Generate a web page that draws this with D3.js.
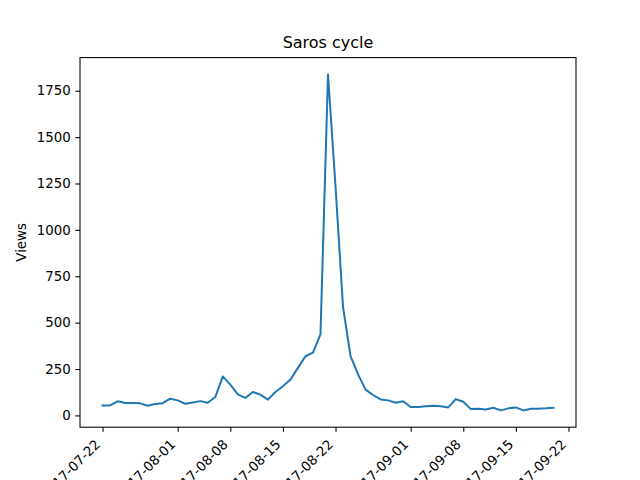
<!DOCTYPE html>
<html>
<head>
<meta charset="utf-8">
<script src="https://cdn.jsdelivr.net/npm/d3@7"></script>
<style>
  html, body { margin: 0; padding: 0; background: #fff; }
  svg { display: block; }
  text { font-family: "DejaVu Sans", sans-serif; fill: #000; }
</style>
</head>
<body>
<svg id="chart" width="640" height="480"></svg>
<script>
// ---- data ----
const dates = [
  "2017-07-22","2017-07-23","2017-07-24","2017-07-25","2017-07-26","2017-07-27","2017-07-28","2017-07-29","2017-07-30","2017-07-31",
  "2017-08-01","2017-08-02","2017-08-03","2017-08-04","2017-08-05","2017-08-06","2017-08-07","2017-08-08","2017-08-09","2017-08-10",
  "2017-08-11","2017-08-12","2017-08-13","2017-08-14","2017-08-15","2017-08-16","2017-08-17","2017-08-18","2017-08-19","2017-08-20",
  "2017-08-21","2017-08-22","2017-08-23","2017-08-24","2017-08-25","2017-08-26","2017-08-27","2017-08-28","2017-08-29","2017-08-30",
  "2017-08-31","2017-09-01","2017-09-02","2017-09-03","2017-09-04","2017-09-05","2017-09-06","2017-09-07","2017-09-08","2017-09-09",
  "2017-09-10","2017-09-11","2017-09-12","2017-09-13","2017-09-14","2017-09-15","2017-09-16","2017-09-17","2017-09-18","2017-09-19",
  "2017-09-20"
];
const views = [
  54, 54, 76, 67, 67, 65, 52, 61, 66, 90,
  81, 63, 70, 77, 68, 99, 210, 166, 113, 94,
  126, 112, 85, 126, 157, 193, 256, 319, 338, 437,
  1838, 1234, 585, 319, 221, 139, 110, 86, 81, 68,
  76, 45, 45, 49, 52, 49, 43, 88, 74, 34,
  36, 32, 41, 27, 38, 43, 27, 36, 36, 38,
  41
];
const xTickLabels = ["2017-07-22","2017-08-01","2017-08-08","2017-08-15","2017-08-22","2017-09-01","2017-09-08","2017-09-15","2017-09-22"];
const yTickValues = [0, 250, 500, 750, 1000, 1250, 1500, 1750];
const titleText = "Saros cycle";
const yLabelText = "Views";

// ---- layout ----
const W = 640, H = 480;
const m = { left: 80, right: 576, top: 57.6, bottom: 427.2 };
const svg = d3.select("#chart");
const parse = d3.utcParse("%Y-%m-%d");
const data = dates.map((d, i) => ({ date: parse(d), v: views[i] }));

// matplotlib-like 5% margins
const xExt = d3.extent(data, d => +d.date);
const xPad = (xExt[1] - xExt[0]) * 0.05;
const x = d3.scaleUtc().domain([new Date(xExt[0] - xPad), new Date(xExt[1] + xPad)]).range([m.left, m.right]);
const yExt = d3.extent(data, d => d.v);
const yPad = (yExt[1] - yExt[0]) * 0.05;
const y = d3.scaleLinear().domain([yExt[0] - yPad, yExt[1] + yPad]).range([m.bottom, m.top]);

// line
const line = d3.line().x(d => x(d.date)).y(d => y(d.v));
svg.append("path").datum(data)
  .attr("d", line)
  .attr("fill", "none")
  .attr("stroke", "#1f77b4")
  .attr("stroke-width", 2)
  .attr("stroke-linejoin", "round")
  .attr("stroke-linecap", "square");

// frame
svg.append("rect")
  .attr("x", m.left).attr("y", m.top)
  .attr("width", m.right - m.left).attr("height", m.bottom - m.top)
  .attr("fill", "none").attr("stroke", "#000").attr("stroke-width", 1.07);

// y axis
const yAxis = d3.axisLeft(y).tickValues(yTickValues).tickSize(4.67).tickPadding(4.67).tickFormat(d3.format("d"));
const gy = svg.append("g").attr("transform", `translate(${m.left},0)`).call(yAxis);
gy.select(".domain").remove();
gy.selectAll(".tick line").attr("stroke", "#000").attr("stroke-width", 1.07);
gy.selectAll(".tick text").attr("font-size", "13.33px").attr("font-family", "DejaVu Sans").attr("fill", "#000");

// x axis
const xTicks = xTickLabels.map(parse);
const xAxis = d3.axisBottom(x).tickValues(xTicks).tickSize(4.67).tickFormat(d3.utcFormat("%Y-%m-%d"));
const gx = svg.append("g").attr("transform", `translate(0,${m.bottom})`).call(xAxis);
gx.select(".domain").remove();
gx.selectAll(".tick line").attr("stroke", "#000").attr("stroke-width", 1.07);
gx.selectAll(".tick text")
  .attr("font-size", "13.33px").attr("font-family", "DejaVu Sans").attr("fill", "#000")
  .attr("text-anchor", "end")
  .attr("dy", null)
  .attr("y", 0)
  .attr("transform", "translate(-2,18) rotate(-45)");

// title
svg.append("text")
  .attr("x", (m.left + m.right) / 2).attr("y", m.top - 10)
  .attr("text-anchor", "middle")
  .attr("font-size", "16px")
  .text(titleText);

// y label
svg.append("text")
  .attr("transform", `translate(26,${(m.top + m.bottom) / 2}) rotate(-90)`)
  .attr("text-anchor", "middle")
  .attr("font-size", "13.33px")
  .text(yLabelText);
</script>
</body>
</html>
